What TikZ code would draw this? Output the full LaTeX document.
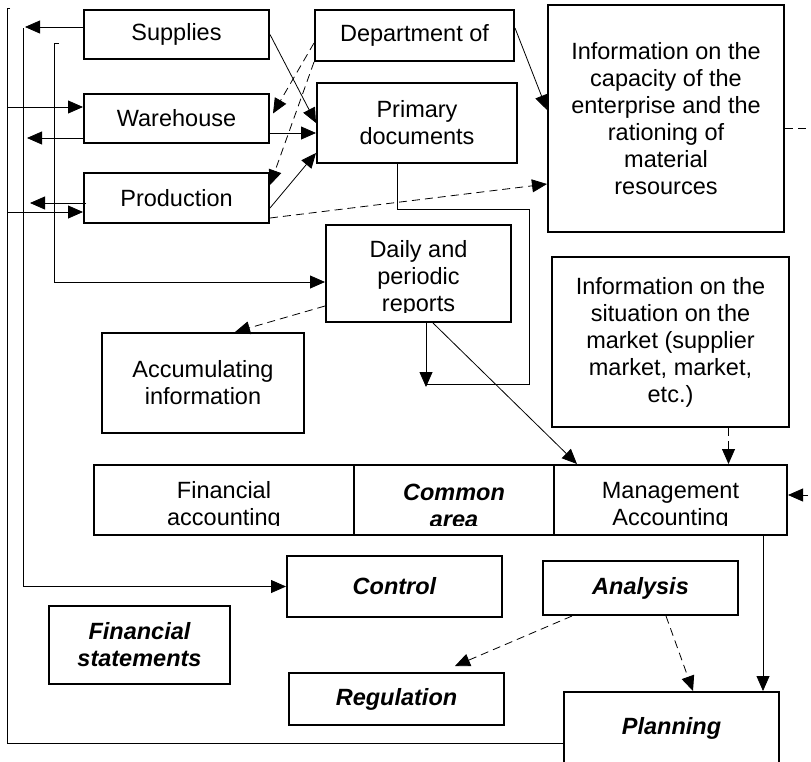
\documentclass[tikz,border=0pt]{standalone}
\usepackage{fontspec}
\setmainfont{Liberation Sans}
\usetikzlibrary{arrows.meta}

\begin{document}
\begin{tikzpicture}[x=1pt,y=-1pt,
		box/.style={draw,line width=2pt,inner sep=0pt,align=center,font=\fontsize{23.5}{27}\selectfont},
		bbox/.style={box,font=\fontsize{23.5}{27}\selectfont\bfseries\itshape},
		cutbox/.style 2 args={box,path picture={
				\clip ([yshift=10pt]path picture bounding box.south west) rectangle (path picture bounding box.north east);
				\node[draw=none,anchor=north,align=center,inner sep=0pt,font=\fontsize{23.5}{27}\selectfont] at ([yshift=-#1]path picture bounding box.north) {#2};}},
		wire/.style={line width=0.8pt},
		conn/.style={wire,-{Triangle[length=15pt,width=13pt]}},
		dconn/.style={conn,dash pattern=on 8pt off 5pt}]
		\clip (0,0) rectangle (811,761);
		% Kaesten
		\node[box,minimum width=185pt,minimum height=49pt] (supplies) at (176.5,34.5) {Supplies};
		\node[box,minimum width=185pt,minimum height=49pt] (warehouse) at (176.5,118.5) {Warehouse};
		\node[box,minimum width=185pt,minimum height=50pt] (production) at (176.5,198) {Production};
		\node[box,minimum width=199pt,minimum height=51pt] (department) at (414.5,35.5) {Department of};
		\node[box,minimum width=200pt,minimum height=80pt] (primary) at (417,123) {Primary\\documents};
		\node[box,minimum width=236pt,minimum height=227pt] (capacity) at (666,118.5) {Information on the\\capacity of the\\enterprise and the\\rationing of\\material\\resources};
		\node[box,minimum width=237pt,minimum height=170pt] (market) at (670.5,342) {Information on the\\situation on the\\market (supplier\\market, market,\\etc.)};
		\node[cutbox={3.5pt}{Daily and\\periodic\\reports},minimum width=185pt,minimum height=97pt] (reports) at (418.5,273.5) {};
		\node[box,minimum width=202pt,minimum height=100pt] (accumulating) at (203,383) {Accumulating\\information};
		\node[cutbox={5pt}{Financial\\accounting},minimum width=260pt,minimum height=70pt] (finacc) at (224,500) {};
		\node[cutbox={5pt}{\textbf{\textit{Common}}\\\textbf{\textit{area}}},minimum width=200pt,minimum height=70pt] (common) at (454,500) {};
		\node[cutbox={5pt}{Management\\Accounting},minimum width=233pt,minimum height=70pt] (management) at (670.5,500) {};
		\node[bbox,minimum width=215pt,minimum height=61pt] (control) at (394.5,586.5) {Control};
		\node[bbox,minimum width=195pt,minimum height=54pt] (analysis) at (640.5,588) {Analysis};
		\node[bbox,minimum width=181pt,minimum height=78pt] (statements) at (139.5,645) {Financial\\statements};
		\node[bbox,minimum width=215pt,minimum height=52pt] (regulation) at (396.5,699) {Regulation};
		\node[bbox,minimum width=215pt,minimum height=72pt] (planning) at (671.5,728) {Planning};
		% Linien links
		\coordinate (lineA) at (7,8);
		\coordinate (lineB) at (23,28);
		\coordinate (lineC) at (54,43);
		\draw[wire] ([xshift=3pt]lineA) -- (lineA) |- ([yshift=-15pt]planning.west);
		\draw[conn] ([yshift=11.5pt]warehouse.west -| lineA) -- ([yshift=11.5pt]warehouse.west);
		\draw[conn] ([yshift=-14pt]production.west -| lineA) -- ([yshift=-14pt]production.west);
		\draw[conn] (lineB) |- (control.west);
		\draw[conn] ([yshift=7.5pt]supplies.west) -- ([xshift=2pt,yshift=7.5pt]supplies.west -| lineB);
		\draw[conn] ([yshift=-19.5pt]warehouse.west) -- ([xshift=4pt,yshift=-19.5pt]warehouse.west -| lineB);
		\draw[conn] ([xshift=3pt,yshift=-5pt]production.west) -- ([xshift=7pt,yshift=-5pt]production.west -| lineB);
		\draw[conn] ([xshift=5pt]lineC) -- (lineC) |- ([yshift=-8.5pt]reports.west);
		% Pfeile Mitte
		\draw[conn] (supplies.east) -- (primary.west);
		\draw[conn] ([yshift=-14.5pt]warehouse.east) -- ([yshift=-10pt]primary.west);
		\draw[conn] ([yshift=-10pt]production.east) -- ([yshift=-30pt]primary.west);
		\draw[dconn] ([yshift=-7.5pt]department.west) -- ([xshift=3pt,yshift=5pt]warehouse.east);
		\draw[dconn] (department.south west) -- ([yshift=13pt]production.east);
		\draw[dconn] ([yshift=-20pt]production.east) -- ([yshift=-65.5pt]capacity.west);
		\draw[conn] ([yshift=7.5pt]department.east) -- ([yshift=8.5pt]capacity.west);
		\draw[dconn] ([yshift=-9.5pt]capacity.east) -- ++(36,0) |- ([yshift=5pt]management.east);
		\coordinate (loopturn) at (529,209);
		\coordinate (loopend) at (426,387);
		\draw[wire] ([xshift=-20pt]primary.south) |- (loopturn) |- ([yshift=3pt]loopend);
		\draw[conn] ([xshift=7.5pt]reports.south) -- (loopend);
		\draw[dconn] ([yshift=-32.5pt]reports.west) -- ([xshift=32pt]accumulating.north);
		\draw[conn] ([xshift=14.5pt]reports.south) -- ([xshift=24pt]management.north west);
		\draw[dconn] ([xshift=58pt]market.south) -- ([xshift=58pt]market.south |- management.north);
		% Pfeile unten
		\draw[conn] ([xshift=92.5pt]management.south) -- ([xshift=92.5pt]management.south |- planning.north);
		\draw[dconn] ([xshift=30pt]analysis.south west) -- ([xshift=58.5pt,yshift=6pt]regulation.north);
		\draw[dconn] ([xshift=25.5pt]analysis.south) -- ([xshift=21.5pt]planning.north);
	\end{tikzpicture}
\end{document}
